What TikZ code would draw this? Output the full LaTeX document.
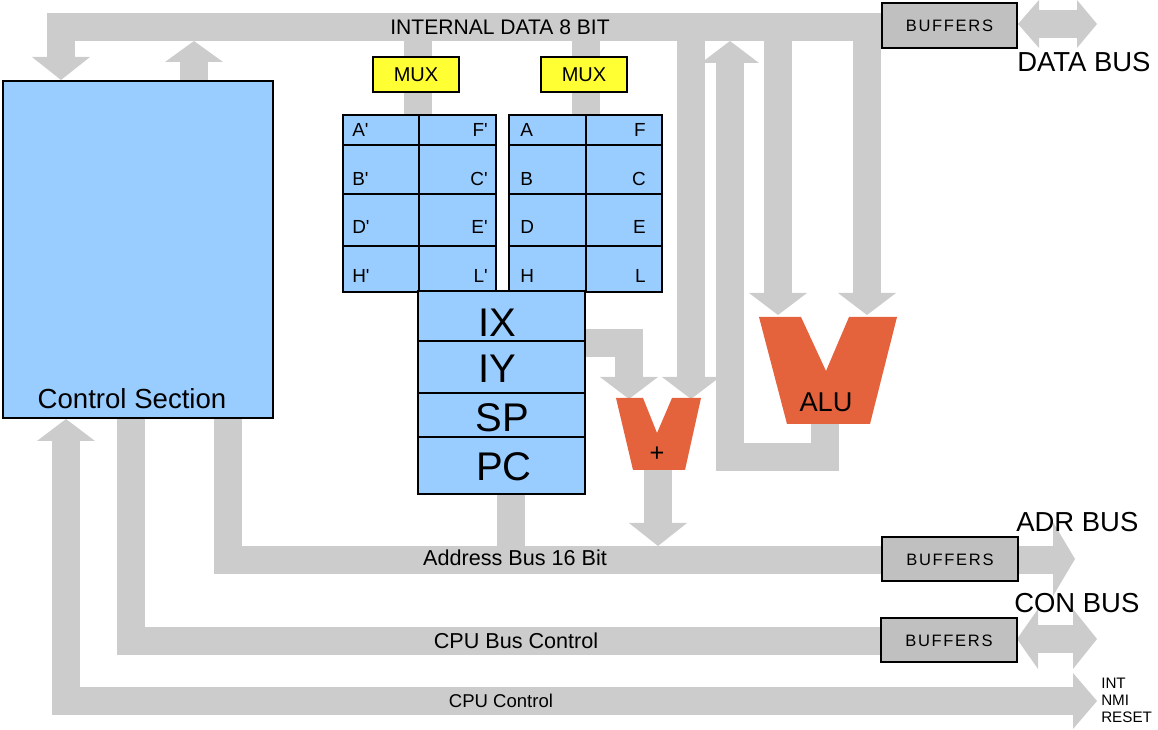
\documentclass[tikz,border=0pt]{standalone}
\usepackage{fontspec}
\setmainfont{Liberation Sans}
\newfontfamily\plainfont{Liberation Sans}
\usetikzlibrary{fit}
\definecolor{busgray}{RGB}{204,204,204}
\definecolor{regblue}{RGB}{153,204,255}
\definecolor{muxyellow}{RGB}{255,255,51}
\definecolor{bufgray}{RGB}{192,192,192}
\definecolor{aluorange}{RGB}{228,99,61}
\newcommand\fs[1]{\fontsize{#1}{#1}\selectfont}
\begin{document}
\begin{tikzpicture}[x=0.75pt,y=-0.75pt,
  bus/.style={draw=busgray,line width=21pt,line join=miter},
  head/.style={fill=busgray},
  blk/.style={draw=black,line width=0.8pt,inner sep=0pt},
  regbox/.style={blk,fill=regblue},
  muxbox/.style={blk,fill=muxyellow},
  bufbox/.style={blk,fill=bufgray},
  unit/.style={fill=aluorange},
  reglbl/.style={font=\plainfont\fs{14.2pt},inner sep=0pt},
  bigreg/.style={font=\fs{30pt},inner sep=0pt,anchor=base},
  buflbl/.style={font=\addfontfeature{LetterSpace=10}\fs{12.4pt},inner sep=0pt},
  buslbl/.style={font=\fs{20.6pt},inner sep=0pt,anchor=west},
  txt/.style={inner sep=0pt}]
\useasboundingbox (0,0) rectangle (1158,730);

% ---------------- named coordinates for bus ends
\coordinate (ctrlIn) at (61,57);
\coordinate (ctrlOut) at (194,81);
\coordinate (dbufL) at (882,27);

% ---------------- gray buses (drawn first)
% internal data bus
\draw[bus] (ctrlIn) |- (dbufL);
\fill[head] (32,57) -- (90,57) -- (61,80) -- cycle;
% control -> data bus
\draw[bus] (ctrlOut) -- (194,62);
\fill[head] (165,62) -- (223,62) -- (194,41) -- cycle;
% mux stems
\draw[bus] (418,41) -- (418,115);
\draw[bus] (586,41) -- (586,115);
% data bus -> adder right input
\draw[bus] (691,41) -- (691,377);
\fill[head] (662,377) -- (720,377) -- (691,399) -- cycle;
% data bus -> ALU inputs
\draw[bus] (778,41) -- (778,293);
\fill[head] (749,293) -- (807,293) -- (778,315) -- cycle;
\draw[bus] (867,41) -- (867,293);
\fill[head] (838,293) -- (896,293) -- (867,315) -- cycle;
% ALU output -> data bus
\draw[bus] (825,424) |- (730,457.5) -- (730,63);
\fill[head] (701,63) -- (759,63) -- (730,41) -- cycle;
% IX -> adder
\draw[bus] (585,343) -| (629,377);
\fill[head] (600,377) -- (658,377) -- (629,399) -- cycle;
% PC -> address bus
\draw[bus] (510.5,494) -- (510.5,547);
% adder -> address bus
\draw[bus] (658,470) -- (658,523);
\fill[head] (629,523) -- (687,523) -- (658,546) -- cycle;
% address bus
\draw[bus] (228,418) |- (882,560);
\draw[bus] (1017,560) -- (1053,560);
\fill[head] (1053,522) -- (1053,596) -- (1075,559) -- cycle;
% CPU bus control
\draw[bus] (131,418) |- (881,641.5);
\draw[bus] (1037,639) -- (1074,639);
\fill[head] (1038,609) -- (1038,669) -- (1017,639) -- cycle;
\fill[head] (1073,609) -- (1073,669) -- (1097,639) -- cycle;
% CPU control
\draw[bus] (66,441) |- (1074,701);
\fill[head] (37,441) -- (95,441) -- (66,419) -- cycle;
\fill[head] (1073,673) -- (1073,729) -- (1097,701) -- cycle;
% data bus external double arrow
\draw[bus] (1038,24) -- (1078,24);
\fill[head] (1039,0) -- (1039,48) -- (1018,24) -- cycle;
\fill[head] (1077,0) -- (1077,48) -- (1097,24) -- cycle;

% ---------------- blocks
\node[regbox,fit={(3,81)(273,418)}] (ctrl) {};
\node[txt,font=\fs{20.7pt}] (ctrlLbl) at (132,399) {Control Section};

\node[muxbox,fit={(373,57)(459,92)}] (mux1) {};
\node[txt,font=\fs{15pt}] at (mux1.center) {MUX};
\node[muxbox,fit={(541,57)(627,92)}] (mux2) {};
\node[txt,font=\fs{15pt}] at (mux2.center) {MUX};

\foreach \ya/\yb [count=\i] in {115/145,145/194,194/246,246/292} {
  \node[regbox,fit={(343,\ya)(419,\yb)}] (La\i) {};
  \node[regbox,fit={(419,\ya)(496,\yb)}] (Lb\i) {};
  \node[regbox,fit={(509,\ya)(586,\yb)}] (Ra\i) {};
  \node[regbox,fit={(586,\ya)(662,\yb)}] (Rb\i) {};
}
\foreach \b/\l/\r in {137/A/F,186/B/C,234/D/E,283/H/L} {
  \node[reglbl,anchor=base west] (p\l) at (352,\b) {\l'};
  \node[reglbl,anchor=base east] (p\r) at (488,\b) {\r'};
  \node[reglbl,anchor=base west] (r\l) at (520,\b) {\l};
  \node[reglbl,anchor=base east] (r\r) at (646,\b) {\r};
}

\node[regbox,fit={(418,291)(585,341)}] (IX) {};
\node[regbox,fit={(418,341)(585,393)}] (IY) {};
\node[regbox,fit={(418,393)(585,437)}] (SP) {};
\node[regbox,fit={(418,437)(585,494)}] (PC) {};
\node[bigreg] at (497,337) {IX};
\node[bigreg] at (497,383) {IY};
\node[bigreg] at (502,432) {SP};
\node[bigreg] at (504,481) {PC};

% adder and ALU
\fill[unit] (616,398) -- (643,398) -- (657,433) -- (672,398) -- (701,398) -- (685,470) -- (633,470) -- cycle;
\node[txt,font=\fs{19pt}] (adder) at (657,454) {+};
\fill[unit] (759,317) -- (801,317) -- (826,371) -- (849,317) -- (897,317) -- (870,424) -- (787,424) -- cycle;
\node[txt,font=\fs{20.4pt}] (alu) at (826,402) {ALU};

% buffers
\node[bufbox,fit={(882,3)(1017,48)}] (buf1) {};
\node[buflbl] at (949.5,26) {BUFFERS};
\node[bufbox,fit={(882,537)(1018,581)}] (buf2) {};
\node[buflbl] at (950,560) {BUFFERS};
\node[bufbox,fit={(881,618)(1017,662)}] (buf3) {};
\node[buflbl] at (949,641) {BUFFERS};

% ---------------- labels
\node[txt,font=\fs{15.8pt}] at (500,27) {INTERNAL DATA 8 BIT};
\node[buslbl] at (1017,62) {DATA BUS};
\node[buslbl] at (1016,522) {ADR BUS};
\node[buslbl] at (1014,603) {CON BUS};
\node[txt,font=\fs{16.2pt}] at (515,558) {Address Bus 16 Bit};
\node[txt,font=\fs{16.2pt}] at (516,641) {CPU Bus Control};
\node[txt,font=\fs{13.9pt}] at (501,701) {CPU Control};
\node[txt,font=\fs{11.4pt},anchor=west] at (1101,683) {INT};
\node[txt,font=\fs{11.4pt},anchor=west] at (1101,700) {NMI};
\node[txt,font=\fs{11.4pt},anchor=west] at (1101,717) {RESET};
\end{tikzpicture}
\end{document}
